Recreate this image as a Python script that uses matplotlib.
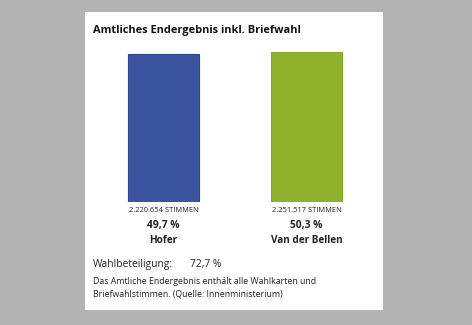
import matplotlib.pyplot as plt
from matplotlib.patches import Rectangle

# data
candidates = ["Hofer", "Van der Bellen"]
shares = [49.7, 50.3]
votes = ["2.220.654", "2.251.517"]
colors = ["#3a54a0", "#8fb12c"]
edges = ["#2d4590", "#86a826"]
turnout = "72,7 %"

W, H = 472, 325
fig = plt.figure(figsize=(W / 100, H / 100), dpi=100)
fig.patch.set_facecolor("#b3b3b3")
plt.rcParams["font.family"] = ["Open Sans", "DejaVu Sans"]

def px(x, y):
    # pixel (from top left) -> figure fraction
    return x / W, 1 - y / H

# white card
fig.patches.append(Rectangle(px(85, 310), 298 / W, 298 / H,
                             transform=fig.transFigure, facecolor="white",
                             edgecolor="none", zorder=-5))

fig.text(*px(93, 30), "Amtliches Endergebnis inkl. Briefwahl",
         fontsize=7.9, fontweight="bold", va="center", color="#111111")

# bars: bottom at 202px, 50.3 reaches 52px
l, b = px(92, 202)
ax = fig.add_axes([l, b, 286 / W, 150 / H])
ax.set_facecolor("none")
ax.bar(range(len(shares)), shares, width=0.5, color=colors,
       edgecolor=edges, linewidth=0.8)
ax.set_xlim(-0.5, 1.5)
ax.set_ylim(0, max(shares))
ax.axis("off")

for i, (name, s, v) in enumerate(zip(candidates, shares, votes)):
    ax.annotate(v + " STIMMEN", (i, 0), xytext=(0, -6), textcoords="offset points",
                ha="center", va="center", fontsize=5.4, color="#222222")
    ax.annotate(f"{s:.1f} %".replace(".", ","), (i, 0), xytext=(0, -17),
                textcoords="offset points", ha="center", va="center",
                fontsize=7.4, fontweight="bold", color="#222222")
    ax.annotate(name, (i, 0), xytext=(0, -28), textcoords="offset points",
                ha="center", va="center", fontsize=7.2, fontweight="bold",
                color="#222222")

fig.text(*px(93, 264), "Wahlbeteiligung:", fontsize=7.4, va="center", color="#222222")
fig.text(*px(190, 264), turnout, fontsize=7.4, va="center", color="#222222")
fig.text(*px(93, 282), "Das Amtliche Endergebnis enthält alle Wahlkarten und",
         fontsize=6.3, va="center", color="#222222")
fig.text(*px(93, 294), "Briefwahlstimmen. (Quelle: Innenministerium)",
         fontsize=6.3, va="center", color="#222222")

fig.savefig("out.png", dpi=100, facecolor=fig.get_facecolor())
